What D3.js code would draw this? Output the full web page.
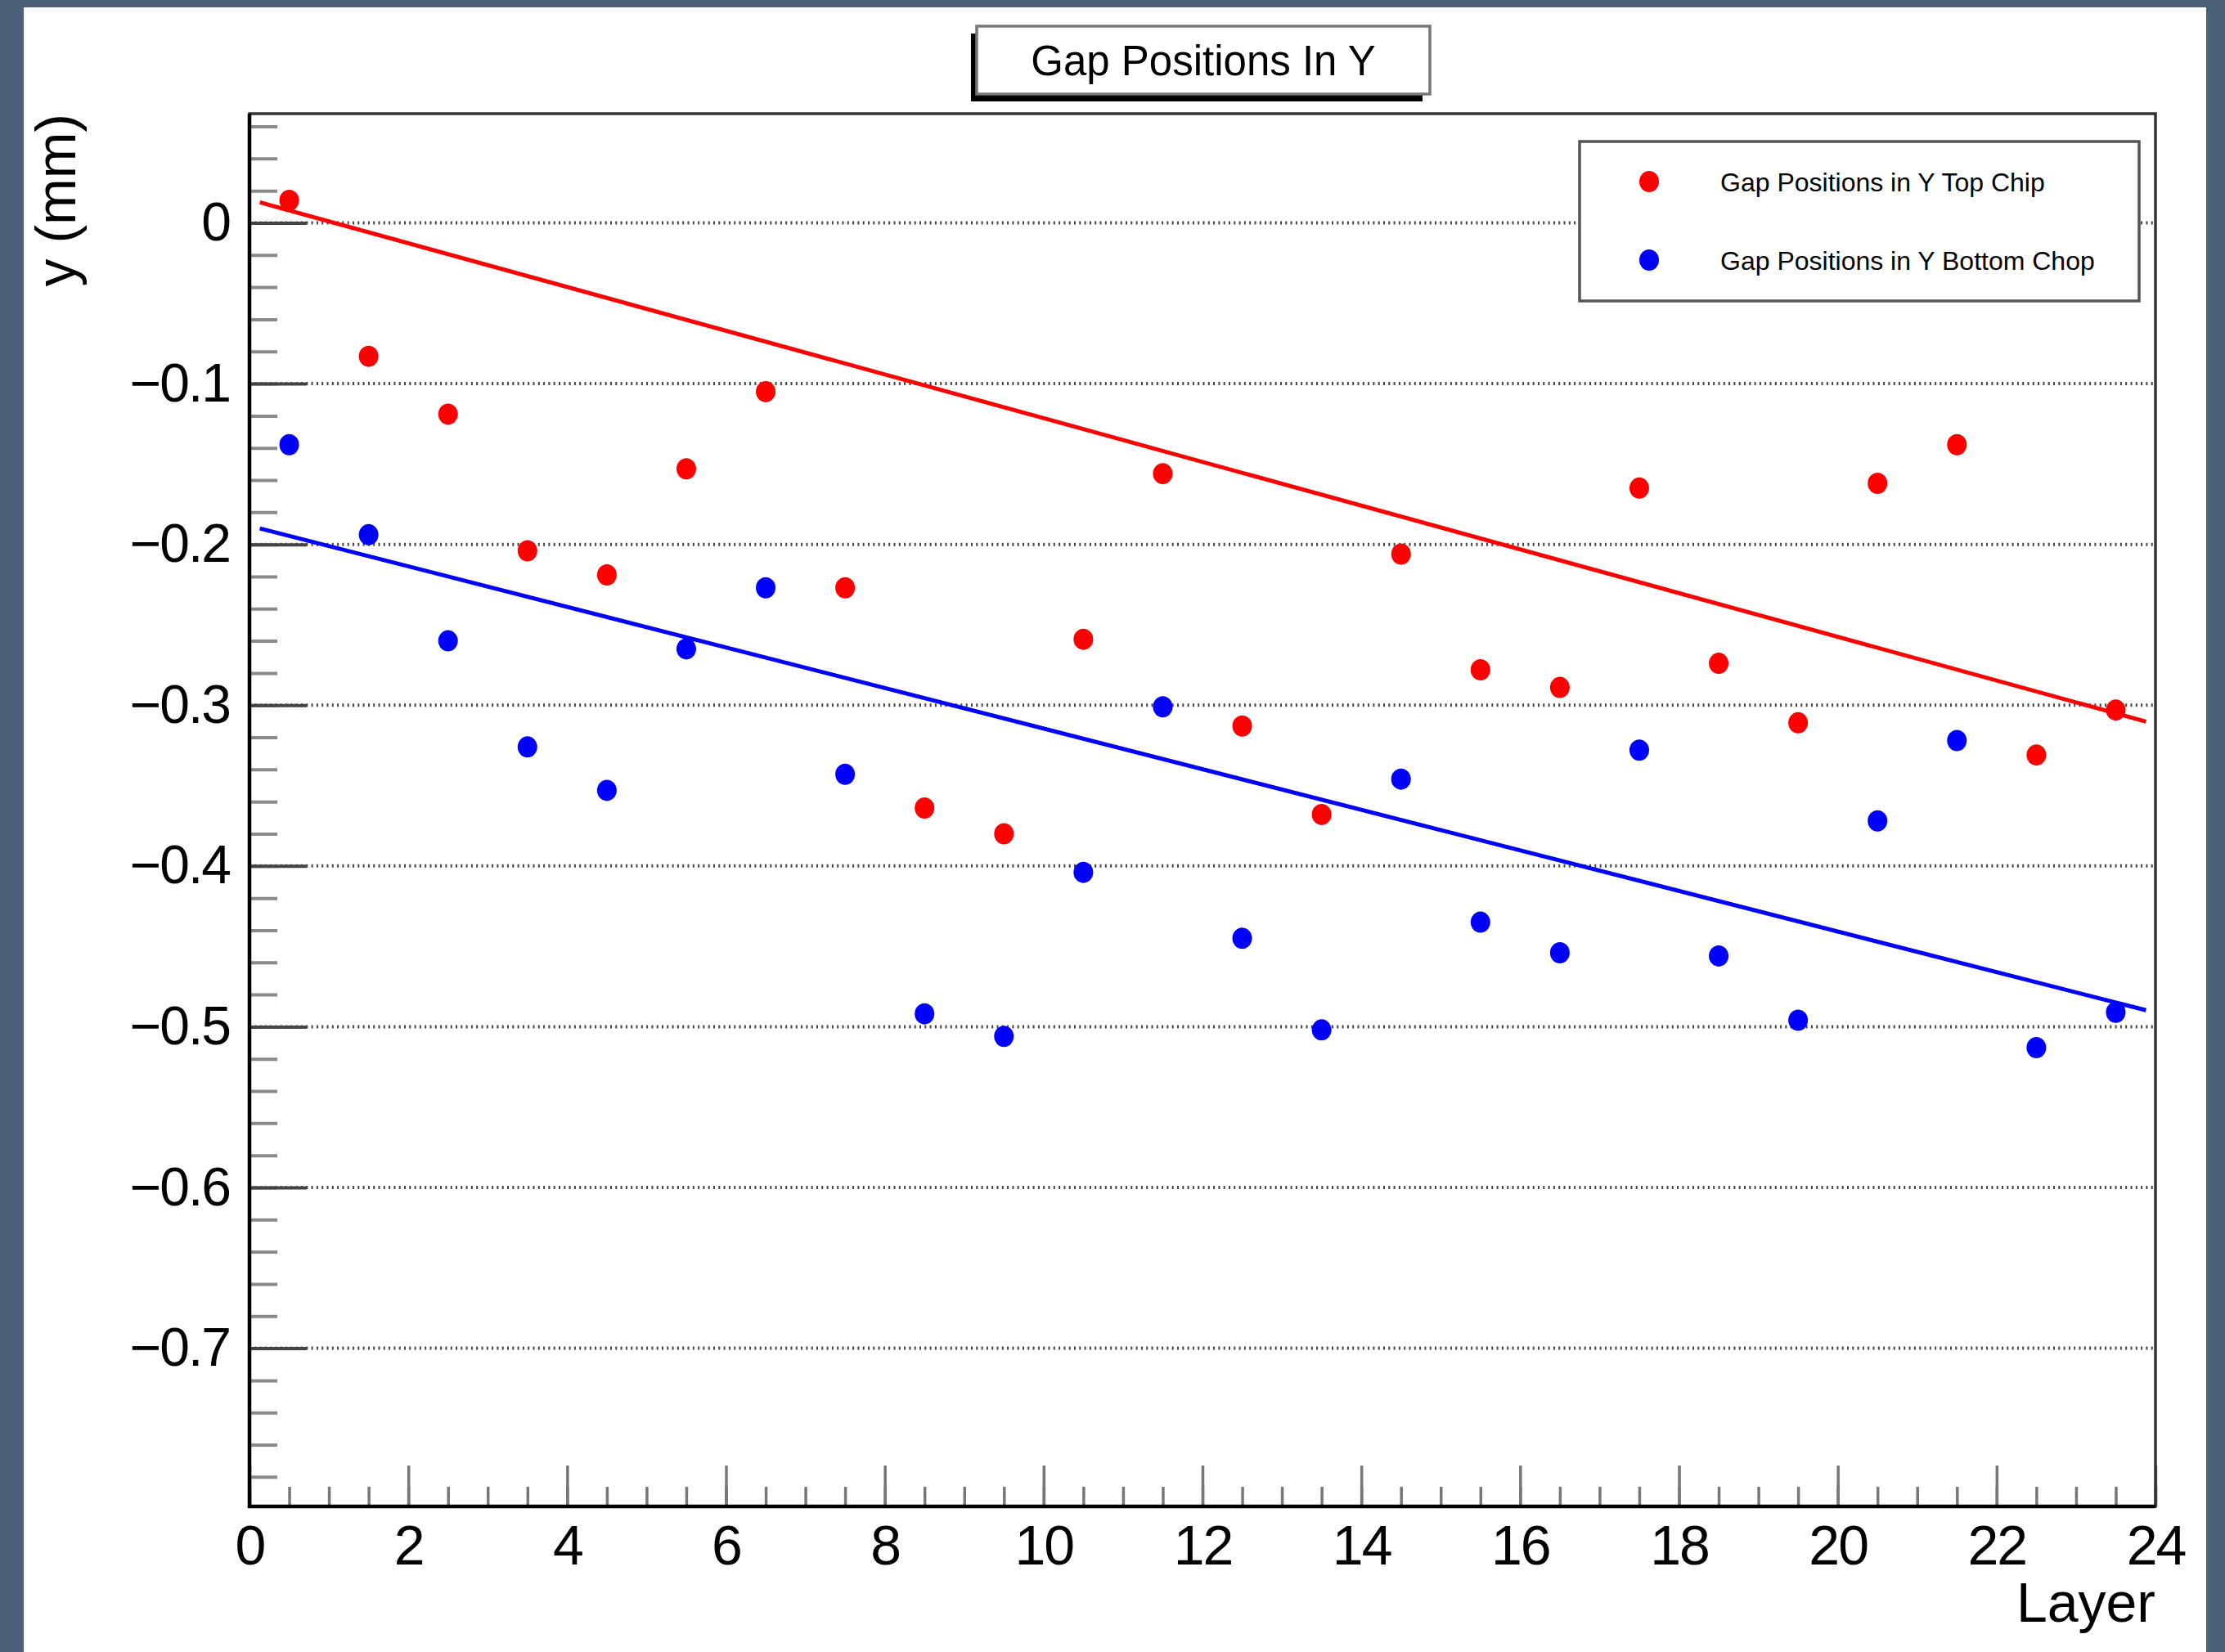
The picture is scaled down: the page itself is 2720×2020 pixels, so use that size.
<!DOCTYPE html>
<html>
<head>
<meta charset="utf-8">
<script src="https://cdn.jsdelivr.net/npm/d3@7"></script>
<style>
  body { margin: 0; background: #4b6079; }
  svg { display: block; }
  text { font-family: "Liberation Sans", Arial, Helvetica, sans-serif; fill: #000; }
</style>
</head>
<body>
<svg id="chart" width="2720" height="2020"></svg>
<script>
// layer centres (x) and measured gap positions (mm)
const layers = d3.range(0, 24).map(i => i + 0.5);
const topChip = [0.014, -0.083, -0.119, -0.204, -0.219, -0.153, -0.105, -0.227,
  -0.364, -0.380, -0.259, -0.156, -0.313, -0.368, -0.206, -0.278,
  -0.289, -0.165, -0.274, -0.311, -0.162, -0.138, -0.331, -0.303];
const bottomChip = [-0.138, -0.194, -0.260, -0.326, -0.353, -0.265, -0.227, -0.343,
  -0.492, -0.506, -0.404, -0.301, -0.445, -0.502, -0.346, -0.435,
  -0.454, -0.328, -0.456, -0.496, -0.372, -0.322, -0.513, -0.491];
// straight-line fits: [intercept, slope] and drawn range
const topFit = [0.0145, -0.0136];
const bottomFit = [-0.1884, -0.01262];
const fitRange = [0.13, 23.88];

const yMajor = d3.range(-7, 1).map(k => k / 10);
const yMinor = d3.range(-39, 4).map(k => k / 50);
const xMajor = d3.range(0, 25, 2);
const xMinor = d3.range(0, 48.5).map(k => k / 2);

const legendLabels = ['Gap Positions in Y Top Chip', 'Gap Positions in Y Bottom Chop'];
const colors = ['#ff0000', '#0000ff'];

const frame = { left: 305, right: 2635, top: 139, bottom: 1842 };

const svg = d3.select('#chart');

svg.append('rect')
  .attr('x', 29).attr('y', 9)
  .attr('width', 2697 - 29).attr('height', 2020 - 9)
  .attr('fill', '#fff');

const x = d3.scaleLinear().domain([0, 24]).range([frame.left, frame.right]);
const y = d3.scaleLinear().domain([-0.7984, 0.0679]).range([frame.bottom, frame.top]);

// dotted horizontal grid
svg.append('g')
  .selectAll('line')
  .data(yMajor)
  .enter().append('line')
  .attr('x1', frame.left).attr('x2', frame.right)
  .attr('y1', d => y(d)).attr('y2', d => y(d))
  .attr('stroke', '#444')
  .attr('stroke-width', 4)
  .attr('stroke-dasharray', '2,4.3');

// y axis: minor then major ticks (inside the frame)
const yMinorAxis = svg.append('g')
  .attr('transform', `translate(${frame.left},0)`)
  .call(d3.axisLeft(y).tickValues(yMinor).tickSizeInner(-34).tickSizeOuter(0).tickFormat(''));
yMinorAxis.select('.domain').remove();
yMinorAxis.selectAll('line').attr('stroke', '#8a8a8a').attr('stroke-width', 4);

const yAxis = svg.append('g')
  .attr('transform', `translate(${frame.left},0)`)
  .call(d3.axisLeft(y).tickValues(yMajor).tickSizeInner(-70).tickSizeOuter(0).tickPadding(24)
    .tickFormat(d => Math.abs(d) < 1e-9 ? '0' : d3.format('.1f')(d)));
yAxis.select('.domain').remove();
yAxis.selectAll('line').attr('stroke', '#444').attr('stroke-width', 4);
yAxis.selectAll('text')
  .attr('font-size', 66)
  .attr('letter-spacing', -2)
  .attr('font-family', '"Liberation Sans", Arial, sans-serif');

// x axis
const xMinorAxis = svg.append('g')
  .attr('transform', `translate(0,${frame.bottom})`)
  .call(d3.axisBottom(x).tickValues(xMinor).tickSizeInner(-24).tickSizeOuter(0).tickFormat(''));
xMinorAxis.select('.domain').remove();
xMinorAxis.selectAll('line').attr('stroke', '#777').attr('stroke-width', 3.5);

const xAxis = svg.append('g')
  .attr('transform', `translate(0,${frame.bottom})`)
  .call(d3.axisBottom(x).tickValues(xMajor).tickSizeInner(-50).tickSizeOuter(0).tickPadding(23));
xAxis.select('.domain').remove();
xAxis.selectAll('line').attr('stroke', '#777').attr('stroke-width', 3.5);
xAxis.selectAll('text')
  .attr('font-size', 68)
  .attr('letter-spacing', -2)
  .attr('font-family', '"Liberation Sans", Arial, sans-serif');

// fit lines
const line = d3.line().x(d => x(d[0])).y(d => y(d[1]));
[topFit, bottomFit].forEach((p, i) => {
  svg.append('path')
    .datum(fitRange.map(v => [v, p[0] + p[1] * v]))
    .attr('d', line)
    .attr('fill', 'none')
    .attr('stroke', colors[i])
    .attr('stroke-width', 5);
});

// points
[topChip, bottomChip].forEach((vals, i) => {
  svg.append('g')
    .selectAll('ellipse')
    .data(vals)
    .enter().append('ellipse')
    .attr('cx', (d, j) => x(layers[j]))
    .attr('cy', d => y(d))
    .attr('rx', 12)
    .attr('ry', 13)
    .attr('fill', colors[i]);
});

// frame
svg.append('rect')
  .attr('x', frame.left).attr('y', frame.top)
  .attr('width', frame.right - frame.left).attr('height', frame.bottom - frame.top)
  .attr('fill', 'none')
  .attr('stroke', '#333')
  .attr('stroke-width', 3.5);
svg.append('line')
  .attr('x1', frame.left).attr('x2', frame.left)
  .attr('y1', frame.top).attr('y2', frame.bottom + 2)
  .attr('stroke', '#000').attr('stroke-width', 4.5);
svg.append('line')
  .attr('x1', frame.left - 2).attr('x2', frame.right)
  .attr('y1', frame.bottom).attr('y2', frame.bottom)
  .attr('stroke', '#000').attr('stroke-width', 4.5);

// axis titles
svg.append('text')
  .attr('transform', 'translate(92,139) rotate(-90)')
  .attr('text-anchor', 'end')
  .attr('font-size', 68)
  .text('y (mm)');

svg.append('text')
  .attr('x', frame.right).attr('y', 1983)
  .attr('text-anchor', 'end')
  .attr('font-size', 68)
  .text('Layer');

// legend
const legend = svg.append('g');
legend.append('rect')
  .attr('x', 1931).attr('y', 173)
  .attr('width', 2615 - 1931).attr('height', 368 - 173)
  .attr('fill', '#fff')
  .attr('stroke', '#555')
  .attr('stroke-width', 3.5);
legendLabels.forEach((t, i) => {
  const cy = 222 + i * 96;
  legend.append('ellipse')
    .attr('cx', 2016).attr('cy', cy)
    .attr('rx', 12).attr('ry', 13)
    .attr('fill', colors[i]);
  legend.append('text')
    .attr('x', 2103).attr('y', cy + 12)
    .attr('font-size', 32)
    .text(t);
});

// title box with shadow
const title = svg.append('g');
title.append('rect')
  .attr('x', 1187).attr('y', 41)
  .attr('width', 552).attr('height', 83)
  .attr('fill', '#000');
title.append('rect')
  .attr('x', 1194).attr('y', 32)
  .attr('width', 554).attr('height', 83)
  .attr('fill', '#fff')
  .attr('stroke', '#777')
  .attr('stroke-width', 3.5);
title.append('text')
  .attr('x', 1471).attr('y', 92)
  .attr('text-anchor', 'middle')
  .attr('font-size', 51)
  .text('Gap Positions In Y');
</script>
</body>
</html>
